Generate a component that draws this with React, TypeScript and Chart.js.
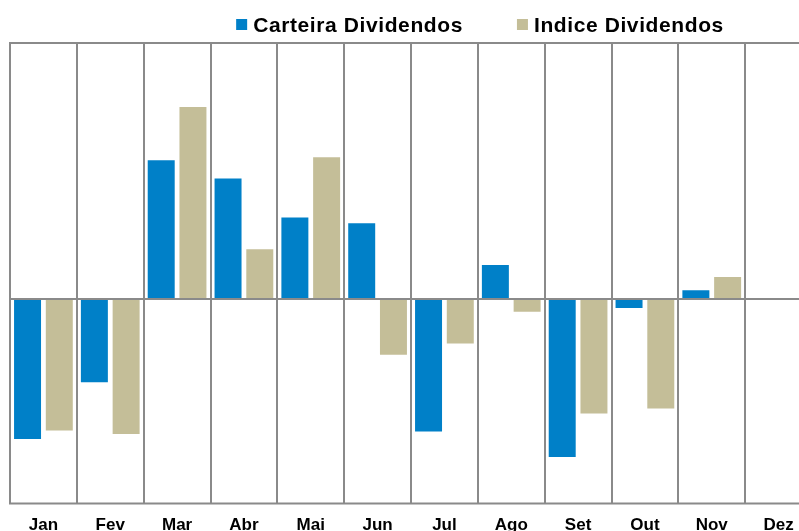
import { useEffect, useRef } from "react";
import { Chart, registerables } from "chart.js";
Chart.register(...registerables);

const categories = ["Jan", "Fev", "Mar", "Abr", "Mai", "Jun", "Jul", "Ago", "Set", "Out", "Nov", "Dez"];
const carteira = [-2.74, -1.63, 2.71, 2.35, 1.59, 1.48, -2.59, 0.66, -3.09, -0.18, 0.17, null];
const indice = [-2.57, -2.64, 3.75, 0.97, 2.77, -1.09, -0.87, -0.25, -2.24, -2.14, 0.43, null];
const seriesNames = ["Carteira Dividendos", "Indice Dividendos"];
const seriesColors = ["#0080C8", "#C4BE98"];
const yMin = -4;
const yMax = 5;

const FONT = "'Liberation Sans', Arial, sans-serif";

const borderPlugin = {
  id: "plotBorder",
  afterDraw(chart: any) {
    const { ctx, chartArea } = chart;
    ctx.save();
    ctx.strokeStyle = "#8a8a8a";
    ctx.lineWidth = 2;
    ctx.beginPath();
    ctx.moveTo(chartArea.right, chartArea.top);
    ctx.lineTo(chartArea.left, chartArea.top);
    ctx.lineTo(chartArea.left, chartArea.bottom);
    ctx.lineTo(chartArea.right, chartArea.bottom);
    ctx.stroke();
    ctx.restore();
  },
};

// Legend drawn on the canvas: square marker + bold label per dataset, centred on the canvas
const legendPlugin = {
  id: "customLegend",
  afterDraw(chart: any) {
    const { ctx, width } = chart;
    const box = 11;
    const boxGap = 6;
    const itemGap = 54;
    const baseline = 32;
    ctx.save();
    ctx.font = `bold 21px ${FONT}`;
    (ctx as any).letterSpacing = "0.6px";
    const items = chart.data.datasets.map((d: any) => ({
      label: d.label,
      color: d.backgroundColor,
      w: ctx.measureText(d.label).width,
    }));
    const total =
      items.reduce((s: number, it: any) => s + box + boxGap + it.w, 0) + itemGap * (items.length - 1);
    let x = width / 2 - total / 2;
    items.forEach((it: any) => {
      ctx.fillStyle = it.color;
      ctx.fillRect(x, baseline - 13, box, box);
      x += box + boxGap;
      ctx.fillStyle = "#000";
      ctx.textBaseline = "alphabetic";
      ctx.textAlign = "left";
      ctx.fillText(it.label, x, baseline);
      x += it.w + itemGap;
    });
    ctx.restore();
  },
};

export default function App() {
  const ref = useRef<HTMLCanvasElement>(null);
  useEffect(() => {
    if (!ref.current) return;
    const chart = new Chart(ref.current, {
      type: "bar",
      data: {
        labels: categories,
        datasets: [
          { label: seriesNames[0], data: carteira, backgroundColor: seriesColors[0] },
          { label: seriesNames[1], data: indice, backgroundColor: seriesColors[1] },
        ],
      },
      options: {
        responsive: false,
        animation: false,
        layout: { padding: { left: 10, right: 148, top: 43, bottom: 0 } },
        datasets: { bar: { categoryPercentage: 0.95, barPercentage: 0.85 } },
        plugins: {
          tooltip: { enabled: false },
          legend: { display: false },
        },
        scales: {
          x: {
            grid: { display: true, color: "#8a8a8a", lineWidth: 2, drawTicks: false, offset: true },
            border: { display: false },
            ticks: {
              font: { family: FONT, size: 17, weight: "bold" },
              color: "#000",
              padding: 12,
              maxRotation: 0,
              autoSkip: false,
            },
          },
          y: {
            min: yMin,
            max: yMax,
            ticks: { display: false, stepSize: 1 },
            border: { display: false },
            grid: {
              drawTicks: false,
              lineWidth: 2,
              color: (c: any) => (c.tick && c.tick.value === 0 ? "#8a8a8a" : "rgba(0,0,0,0)"),
            },
            afterFit: (s: any) => {
              s.width = 0;
            },
          },
        },
      },
      plugins: [borderPlugin, legendPlugin],
    });
    return () => chart.destroy();
  }, []);
  return (
    <div style={{ position: "fixed", left: 0, top: 0, width: 799, height: 531, overflow: "hidden", background: "#fff" }}>
      <canvas ref={ref} width={960} height={548} style={{ display: "block" }} />
    </div>
  );
}
